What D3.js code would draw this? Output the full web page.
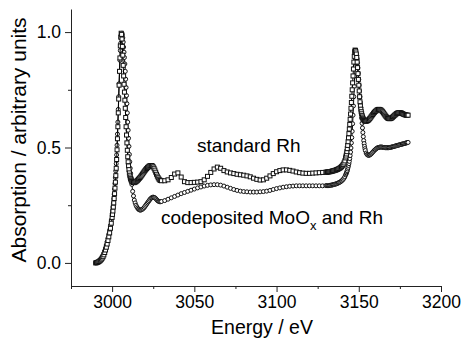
<!DOCTYPE html>
<html><head><meta charset="utf-8">
<script src="https://cdn.jsdelivr.net/npm/d3@7"></script>
<style>body{margin:0;background:#fff}svg{display:block}text{font-family:"Liberation Sans",Arial,sans-serif;fill:#000}</style>
</head><body><svg id="c" width="463" height="339"></svg>
<script>
const energy = [
2990,2990.5,2991,2991.5,2992,2992.5,2993,2993.5,2994,2994.5,
2995,2995.5,2996,2996.5,2997,2997.5,2998,2998.5,2999,2999.5,
3000,3000.25,3000.5,3000.75,3001,3001.25,3001.5,3001.75,3002,3002.25,
3002.5,3002.75,3003,3003.25,3003.5,3003.75,3004,3004.25,3004.5,3004.75,
3005,3005.25,3005.5,3005.75,3006,3006.25,3006.5,3006.75,3007,3007.25,
3007.5,3007.75,3008,3008.25,3008.5,3008.75,3009,3009.25,3009.5,3009.75,
3010,3010.25,3010.5,3010.75,3011,3011.25,3011.5,3011.75,3012,
3012.5,3013,3013.5,3014,3014.5,
3015,3015.5,3016,3016.5,3017,3017.5,3018,3018.5,3019,3019.5,
3020,3020.5,3021,3021.5,3022,3022.5,3023,3023.5,3024,3024.5,
3025,3025.5,3026,3026.5,3027,3027.5,3028,3028.5,3029,3029.5,
3030,
3032,3034,3036,3038,3040,3042,3044,3046,3048,3050,
3052,3054,3056,3058,3060,3062,3064,3066,3068,3070,
3072,3074,3076,3078,3080,3082,3084,3086,3088,3090,
3092,3094,3096,3098,3100,3102,3104,3106,3108,3110,
3112,3114,3116,3118,3120,3122,3124,3126,3128,3130,
3130.5,3131,3131.5,3132,3132.5,3133,3133.5,3134,3134.5,3135,
3135.5,3136,3136.5,3137,3137.5,3138,3138.5,3139,3139.5,3140,
3140.5,3141,3141.5,
3142,3142.25,3142.5,3142.75,3143,3143.25,3143.5,3143.75,3144,3144.25,
3144.5,3144.75,3145,3145.25,3145.5,3145.75,3146,3146.25,3146.5,3146.75,
3147,3147.25,3147.5,3147.75,3148,3148.25,3148.5,3148.75,3149,3149.25,
3149.5,3149.75,3150,3150.25,3150.5,3150.75,3151,3151.25,3151.5,3151.75,
3152,3152.25,3152.5,3152.75,3153,3153.25,3153.5,3153.75,3154,
3154.5,3155,
3155.5,3156,3156.5,3157,3157.5,3158,3158.5,3159,3159.5,3160,
3160.5,3161,3161.5,3162,3162.5,3163,3163.5,3164,3164.5,3165,
3165.5,3166,3166.5,3167,3167.5,3168,3168.5,3169,3169.5,3170,
3170.5,3171,3171.5,3172,3172.5,3173,3173.5,3174,3174.5,3175,
3175.5,3176,3176.5,3177,3177.5,3178,3178.5,3179,3179.5,3180
];
const standardRh = [
0.000,0.001,0.002,0.004,0.006,0.009,0.012,0.016,0.021,0.027,
0.035,0.045,0.056,0.068,0.082,0.097,0.113,0.130,0.150,0.172,
0.197,0.210,0.225,0.242,0.260,0.279,0.300,0.324,0.350,0.378,
0.410,0.448,0.490,0.538,0.590,0.650,0.710,0.770,0.830,0.888,
0.940,0.978,0.995,0.990,0.970,0.938,0.900,0.856,0.810,0.774,
0.740,0.705,0.670,0.630,0.590,0.554,0.520,0.488,0.460,0.438,
0.420,0.404,0.390,0.380,0.372,0.365,0.360,0.356,0.353,
0.350,0.348,0.348,0.350,0.352,
0.355,0.358,0.362,0.366,0.370,0.375,0.380,0.385,0.390,0.395,
0.400,0.405,0.409,0.413,0.416,0.419,0.421,0.422,0.422,0.420,
0.416,0.410,0.402,0.393,0.384,0.376,0.369,0.363,0.359,0.357,
0.356,
0.356,0.360,0.370,0.385,0.390,0.372,0.352,0.348,0.348,0.349,
0.350,0.352,0.360,0.375,0.392,0.407,0.415,0.410,0.400,0.394,
0.390,0.387,0.384,0.382,0.380,0.377,0.373,0.367,0.362,0.359,
0.360,0.367,0.377,0.387,0.395,0.400,0.403,0.403,0.401,0.398,
0.394,0.391,0.389,0.388,0.388,0.389,0.390,0.391,0.392,0.393,
0.393,0.394,0.394,0.395,0.395,0.396,0.397,0.398,0.399,0.400,
0.401,0.402,0.404,0.405,0.407,0.409,0.411,0.414,0.417,0.421,
0.426,0.433,0.442,
0.455,0.463,0.472,0.482,0.495,0.509,0.525,0.542,0.560,0.580,
0.600,0.622,0.645,0.670,0.695,0.722,0.750,0.780,0.810,0.840,
0.870,0.895,0.915,0.922,0.920,0.914,0.905,0.890,0.870,0.846,
0.820,0.795,0.770,0.745,0.720,0.698,0.680,0.666,0.655,0.646,
0.638,0.632,0.627,0.623,0.620,0.618,0.616,0.615,0.614,
0.614,0.615,
0.617,0.620,0.624,0.628,0.633,0.638,0.643,0.648,0.652,0.656,
0.659,0.662,0.664,0.665,0.665,0.664,0.662,0.659,0.655,0.650,
0.645,0.640,0.635,0.631,0.628,0.626,0.625,0.625,0.626,0.628,
0.631,0.634,0.638,0.641,0.644,0.647,0.649,0.650,0.651,0.651,
0.650,0.649,0.647,0.645,0.643,0.642,0.641,0.640,0.640,0.640
];
const codepositedMoOxRh = [
0.000,0.001,0.003,0.005,0.008,0.011,0.015,0.020,0.026,0.033,
0.042,0.053,0.065,0.078,0.092,0.108,0.125,0.143,0.163,0.186,
0.212,0.226,0.242,0.259,0.278,0.298,0.320,0.344,0.370,0.398,
0.430,0.468,0.510,0.558,0.610,0.665,0.720,0.776,0.830,0.878,
0.920,0.952,0.975,0.990,0.995,0.988,0.975,0.957,0.935,0.913,
0.890,0.862,0.830,0.796,0.760,0.725,0.690,0.650,0.610,0.575,
0.540,0.505,0.470,0.438,0.410,0.388,0.370,0.354,0.340,
0.310,0.290,0.272,0.260,0.250,
0.243,0.237,0.233,0.230,0.229,0.229,0.231,0.233,0.236,0.240,
0.245,0.250,0.255,0.260,0.265,0.270,0.275,0.279,0.282,0.284,
0.285,0.284,0.282,0.279,0.275,0.271,0.268,0.266,0.265,0.265,
0.266,
0.270,0.276,0.282,0.288,0.294,0.300,0.305,0.310,0.315,0.320,
0.325,0.329,0.333,0.336,0.338,0.339,0.339,0.337,0.333,0.328,
0.323,0.318,0.314,0.311,0.309,0.308,0.307,0.307,0.307,0.308,
0.309,0.311,0.314,0.318,0.322,0.325,0.328,0.330,0.332,0.333,
0.334,0.334,0.334,0.334,0.334,0.334,0.334,0.334,0.334,0.335,
0.335,0.335,0.335,0.336,0.336,0.337,0.337,0.338,0.339,0.340,
0.341,0.342,0.343,0.345,0.346,0.348,0.350,0.352,0.355,0.358,
0.362,0.367,0.373,
0.381,0.385,0.390,0.395,0.400,0.407,0.414,0.422,0.430,0.440,
0.452,0.465,0.480,0.498,0.520,0.543,0.570,0.603,0.640,0.680,
0.720,0.765,0.810,0.850,0.880,0.898,0.905,0.898,0.885,0.867,
0.845,0.821,0.795,0.770,0.745,0.720,0.695,0.672,0.650,0.627,
0.605,0.585,0.565,0.547,0.530,0.517,0.505,0.495,0.487,
0.476,0.470,
0.467,0.466,0.467,0.469,0.472,0.476,0.480,0.484,0.488,0.491,
0.494,0.497,0.499,0.500,0.501,0.502,0.502,0.502,0.501,0.500,
0.500,0.499,0.499,0.499,0.499,0.499,0.500,0.500,0.501,0.502,
0.503,0.504,0.505,0.506,0.507,0.508,0.509,0.510,0.511,0.512,
0.513,0.514,0.515,0.516,0.517,0.518,0.519,0.520,0.521,0.522
];
const xTicks = [3000, 3050, 3100, 3150, 3200];
const xMinorTicks = [2975, 3025, 3075, 3125, 3175];
const yTicks = [0.0, 0.5, 1.0];
const yMinorTicks = [0.25, 0.75];
const xTitle = "Energy / eV";
const yTitle = "Absorption / arbitrary units";

if (energy.length !== standardRh.length || energy.length !== codepositedMoOxRh.length)
  throw new Error("length mismatch " + energy.length + " " + standardRh.length + " " + codepositedMoOxRh.length);

const svg = d3.select("#c");
const x = d3.scaleLinear().domain([2975, 3200]).range([71, 441]);
const y = d3.scaleLinear().domain([-0.1, 1.1]).range([286, 9]);

// axes
const gx = svg.append("g").attr("transform", "translate(0,286)");
gx.call(d3.axisBottom(x).tickValues(xMinorTicks).tickSize(3).tickSizeOuter(0).tickFormat(""));
gx.call(g => g.select(".domain").remove());
const gx2 = svg.append("g").attr("transform", "translate(0,286)")
  .call(d3.axisBottom(x).tickValues(xTicks).tickSize(6).tickSizeOuter(0).tickPadding(4).tickFormat(d3.format("d")));
gx2.selectAll("text").attr("font-size", 17.5).attr("font-family", "Liberation Sans, Arial, sans-serif");

const gy = svg.append("g").attr("transform", "translate(71,0)");
gy.call(d3.axisLeft(y).tickValues(yMinorTicks).tickSize(3).tickSizeOuter(0).tickFormat(""));
gy.call(g => g.select(".domain").remove());
const gy2 = svg.append("g").attr("transform", "translate(71,0)")
  .call(d3.axisLeft(y).tickValues(yTicks).tickSize(6).tickSizeOuter(0).tickPadding(4).tickFormat(d3.format(".1f")));
gy2.selectAll("text").attr("font-size", 17.5).attr("font-family", "Liberation Sans, Arial, sans-serif");
svg.selectAll(".domain, .tick line").attr("stroke", "#222");

// series
const pts = vals => energy.map((e, i) => [e, vals[i]]);
const line = d3.line().x(d => x(d[0])).y(d => y(d[1]));

function drawSeries(vals, shape) {
  const data = pts(vals);
  svg.append("path").datum(data).attr("d", line).attr("fill", "none").attr("stroke", "#000").attr("stroke-width", 1);
  const g = svg.append("g");
  if (shape === "square") {
    g.selectAll("rect").data(data).join("rect")
      .attr("x", d => x(d[0]) - 2).attr("y", d => y(d[1]) - 2)
      .attr("width", 4).attr("height", 4)
      .attr("fill", "#fff").attr("stroke", "#111").attr("stroke-width", 1);
  } else {
    g.selectAll("circle").data(data).join("circle")
      .attr("cx", d => x(d[0])).attr("cy", d => y(d[1])).attr("r", 2)
      .attr("fill", "#fff").attr("stroke", "#111").attr("stroke-width", 1);
  }
}
drawSeries(codepositedMoOxRh, "circle");
drawSeries(standardRh, "square");

// annotations
svg.append("text").attr("x", 197).attr("y", 152).attr("font-size", 19).text("standard Rh");
const t = svg.append("text").attr("x", 161).attr("y", 224).attr("font-size", 19);
t.append("tspan").text("codeposited MoO");
t.append("tspan").attr("font-size", 13).attr("dy", 6).text("x");
t.append("tspan").attr("dy", -6).text(" and Rh");

// titles
svg.append("text").attr("x", 262).attr("y", 334).attr("text-anchor", "middle").attr("font-size", 19.5).text(xTitle);
svg.append("text").attr("transform", "translate(26,140) rotate(-90)").attr("text-anchor", "middle").attr("font-size", 21).text(yTitle);
</script></body></html>
